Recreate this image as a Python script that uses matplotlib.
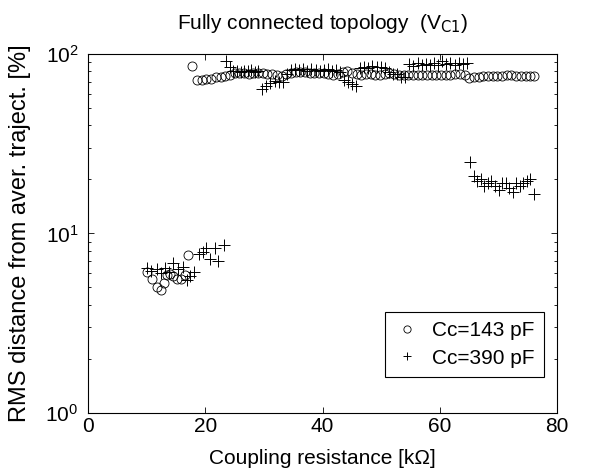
import matplotlib.pyplot as plt

plt.rcParams['font.family'] = ['Liberation Sans', 'DejaVu Sans']

# Cc = 143 pF (circles)
r143 = [10.0, 10.9, 11.8, 12.4, 12.9, 13.5, 13.9, 14.5, 15.1, 15.9, 16.5, 17.1,
        17.8, 18.6, 19.4, 20.2, 21.0, 21.8, 22.6, 23.4, 24.2, 25.0, 25.8, 26.6,
        27.4, 28.2, 29.0, 29.8, 30.6, 31.4, 32.2, 33.0, 33.8, 34.6, 35.4, 36.2,
        37.0, 37.8, 38.6, 39.4, 40.2, 41.0, 41.8, 42.6, 43.4, 44.2, 45.0, 45.8,
        46.6, 47.4, 48.2, 49.0, 49.8, 50.6, 51.4, 52.2, 53.0, 53.8, 54.6, 55.4,
        56.2, 57.0, 57.8, 58.6, 59.4, 60.2, 61.0, 61.8, 62.6, 63.4, 64.2, 65.0,
        65.8, 66.6, 67.4, 68.2, 69.0, 69.8, 70.6, 71.4, 72.2, 73.0, 73.8, 74.6,
        75.4, 76.0]
rms143 = [6.1, 5.6, 5.0, 4.85, 5.3, 5.9, 5.95, 5.8, 5.6, 5.6, 5.9, 7.6,
          86, 71.5, 72, 72.5, 73, 74, 74.5, 75, 76.5, 78, 78, 78,
          77.5, 78, 78.5, 78, 77.5, 77, 76, 75.5, 77, 78.5, 79, 79.5,
          79, 78.5, 78, 78.5, 78, 77, 76.5, 77.5, 79, 80, 78.5, 77,
          76.5, 77, 77, 76.5, 76.5, 77, 78, 77, 76.5, 76, 76.5, 76.5,
          76, 76.5, 76.5, 76, 76.5, 76.5, 76, 76.5, 77, 77.5, 76, 73.5,
          74, 74.5, 75, 75, 75.5, 75, 75.5, 76, 76, 75.5, 75.5, 75.5,
          75.5, 75]

# Cc = 390 pF (plus)
r390 = [10.0, 10.8, 11.7, 12.4, 13.1, 13.8, 14.5, 15.4, 16.2, 16.8, 17.4, 18.1,
        18.9, 19.6, 20.1, 20.8, 21.6, 22.2, 23.1,
        23.5, 24.2, 24.8, 25.4, 26.0, 26.6, 27.2, 27.8, 28.4, 29.0, 29.6, 30.4,
        31.1, 31.8, 32.5, 33.2, 33.9, 34.6, 35.3, 36.0, 36.7, 37.4, 38.1, 38.8,
        39.5, 40.2, 40.9, 41.6, 42.3, 43.0, 43.6, 44.3, 45.0, 45.7, 46.4, 47.1,
        47.8, 48.5, 49.2, 49.9, 50.6, 51.3, 52.0, 52.7, 53.4, 54.1, 54.8, 55.5,
        56.2, 56.9, 57.6, 58.3, 59.0, 59.7, 60.4, 61.1, 61.8, 62.5, 63.2, 63.9,
        64.6,
        65.2, 65.8, 66.4, 67.0, 67.6, 68.2, 68.8, 69.4, 70.0, 70.6, 71.2, 71.8,
        72.4, 73.0, 73.6, 74.2, 74.8, 75.4, 76.0]
rms390 = [6.4, 6.2, 6.3, 6.0, 6.45, 6.1, 6.8, 6.3, 6.5, 5.5, 5.8, 6.1,
          7.7, 7.9, 8.3, 7.2, 8.3, 7.0, 8.6,
          92, 85, 80, 80, 79, 80.5, 80, 81, 79.5, 80, 64, 66.5,
          69, 71, 70, 70, 77, 81, 82, 81, 82, 80.5, 82, 81,
          80.5, 81.5, 82, 80, 81, 79, 71.5, 70, 68.5, 66.5, 84, 85,
          84, 86, 84.5, 85, 84, 79, 77, 77.5, 74, 74.5, 88, 86,
          89, 87, 88, 86.5, 89, 87, 91, 88, 89.5, 87, 89, 88,
          89,
          25, 21, 19.5, 20, 18.5, 19, 19.5, 18.5, 17.5, 19, 19, 18,
          17, 19, 18.5, 19, 19.5, 20, 16.5]

fig = plt.figure(figsize=(6.03, 4.74), dpi=100)
ax = fig.add_axes([0.146, 0.129, 0.778, 0.757])

ax.semilogy(r143, rms143, 'o', mfc='none', mec='black', ms=6.5, mew=0.6,
            label='Cc=143 pF')
ax.semilogy(r390, rms390, '+', color='black', ms=8, mew=0.7,
            label='Cc=390 pF')

ax.set_xlim(0, 80)
ax.set_ylim(1, 100)
ax.set_xticks([0, 20, 40, 60, 80])
ax.tick_params(which='both', direction='in', top=True, right=True,
               labelsize=15, width=0.6)
ax.tick_params(which='major', length=4, pad=3)
ax.tick_params(axis='y', which='major', pad=7)
ax.tick_params(which='minor', length=2.5)
for s in ax.spines.values():
    s.set_linewidth(0.8)

ax.set_xlabel('Coupling resistance [k\u03a9]', fontsize=15, labelpad=9)
ax.set_ylabel('RMS distance from aver. traject. [%]', fontsize=17, labelpad=10)
ax.set_title('Fully connected topology  (V$_{\\mathrm{C1}}$)', fontsize=15, pad=18)

leg = ax.legend(loc='lower right', bbox_to_anchor=(0.972, 0.1), fontsize=15,
                fancybox=False, edgecolor='black', framealpha=1,
                handlelength=1.2, handletextpad=0.6, borderpad=0.45,
                labelspacing=0.4, markerscale=0.8, borderaxespad=0)
leg.get_frame().set_linewidth(0.8)

fig.savefig('out.png', dpi=100)
